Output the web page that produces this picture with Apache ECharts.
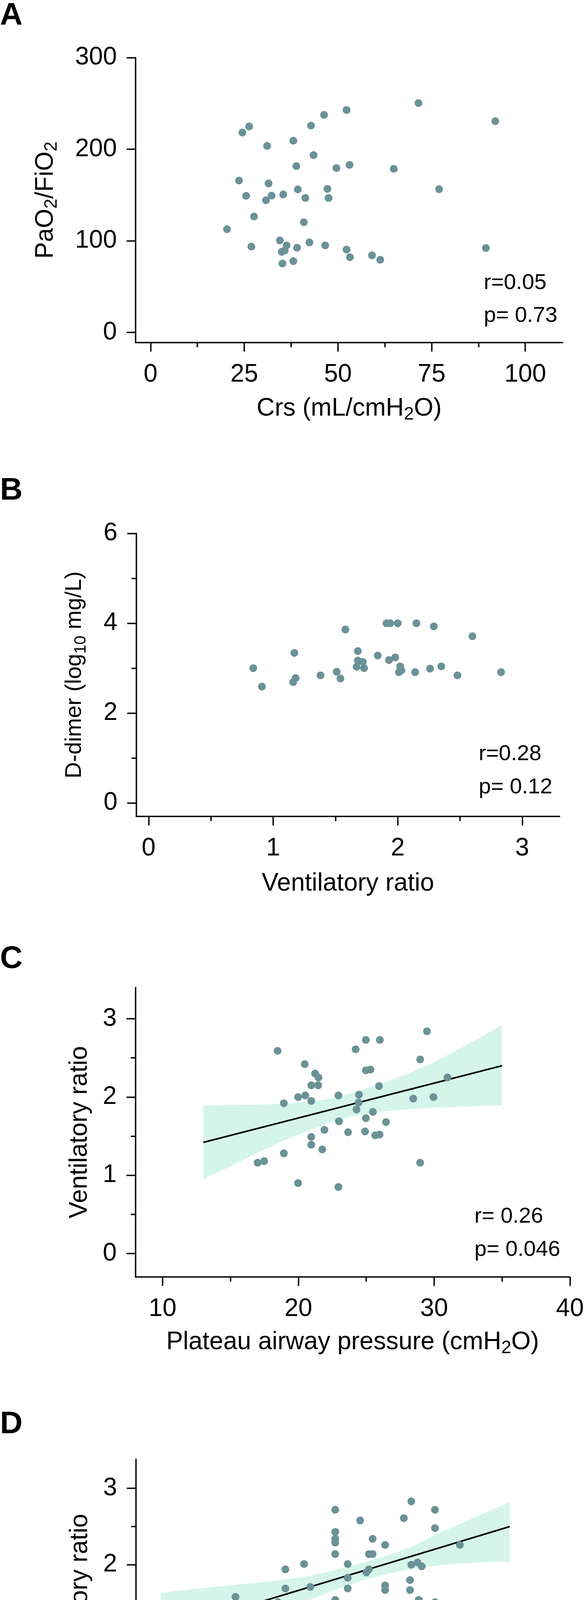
<!DOCTYPE html>
<html><head><meta charset="utf-8">
<script src="https://cdn.jsdelivr.net/npm/echarts@6/dist/echarts.min.js"></script>
<style>html,body{margin:0;padding:0;background:#fff}#c{width:1497px;height:4676px}</style>
</head><body><div id="c"></div>
<script>
// ---------- Panel A : Crs vs PaO2/FiO2 ----------
const aX = [71.5,52.3,46.3,92.0,26.3,42.8,24.5,38.1,31.1,43.5,38.9,53.1,49.6,64.9,23.6,31.5,39.3,47.2,77.0,25.5,32.3,35.4,30.8,41.3,47.5,27.6,40.9,20.4,34.5,26.9,36.3,39.1,42.4,46.6,35.0,35.8,52.3,53.2,89.5,59.1,61.3,38.1,35.2];
const aY = [250.4,242.8,237.5,230.6,224.9,225.8,218.2,209.3,203.6,193.6,181.6,182.9,179.5,178.6,165.8,162.7,156.2,156.8,156.4,149.2,149.4,150.7,144.4,146.8,146.8,126.6,120.3,112.7,100.5,93.8,95.1,92.5,98.3,95.1,88.0,89.5,90.5,82.2,92.2,84.2,79.4,77.9,75.3];
const aXTicks = [0,25,50,75,100];
const aXMinor = [12.5,37.5,62.5,87.5];
const aYTicks = [0,100,200,300];
const aYMinor = [];

// ---------- Panel B : Ventilatory ratio vs D-dimer ----------
const bX = [0.84,0.91,1.17,1.18,1.16,1.38,1.51,1.54,1.58,1.68,1.67,1.68,1.72,1.73,1.84,1.91,1.94,2.00,1.93,1.98,2.02,2.03,2.01,2.14,2.15,2.29,2.26,2.35,2.48,2.60,2.83];
const bY = [3.00,2.59,3.34,2.78,2.69,2.84,2.92,2.77,3.86,3.38,3.03,3.17,3.14,3.00,3.28,4.00,4.00,4.00,3.18,3.24,3.04,2.95,2.91,2.91,4.00,3.93,2.99,3.04,2.84,3.71,2.91];
const bXTicks = [0,1,2,3];
const bXMinor = [0.5,1.5,2.5];
const bYTicks = [0,2,4,6];
const bYMinor = [1,3,5];

// ---------- Panel C : Plateau pressure vs Ventilatory ratio ----------
const cX = [18.47,20.47,21.23,21.48,20.95,21.46,19.98,20.51,18.93,20.95,22.95,24.22,24.97,26.0,29.47,28.97,24.97,25.31,25.94,24.46,24.44,24.28,25.49,24.97,26.46,22.99,21.92,23.66,24.91,25.66,25.98,20.95,20.95,21.76,18.93,17.0,17.48,28.97,28.46,29.95,30.98,19.98,22.95];
const cY = [2.59,2.42,2.30,2.25,2.15,2.15,2.00,2.02,1.92,1.95,2.02,2.61,2.73,2.73,2.84,2.48,2.34,2.35,2.14,2.03,1.93,1.84,1.81,1.73,1.68,1.69,1.58,1.55,1.56,1.51,1.52,1.49,1.39,1.33,1.28,1.16,1.18,1.16,1.98,2.00,2.25,0.90,0.85];
const cXTicks = [10,20,30,40];
const cXMinor = [15,25,35];
const cYTicks = [0,1,2,3];
const cYMinor = [0.5,1.5,2.5];
const cFitX = [13,35];
const cFitY = [1.42,2.40];
const cBandX  = [13,15,17,19,21,22.3,23.8,25.8,27.8,29.8,31.8,33.5,35];
const cBandHi = [1.89,1.897,1.905,1.913,1.945,1.975,2.04,2.155,2.28,2.43,2.61,2.77,2.922];
const cBandLo = [0.95,1.115,1.29,1.45,1.585,1.665,1.746,1.81,1.84,1.862,1.875,1.885,1.893];

// ---------- Panel D : PEEP vs Ventilatory ratio ----------
const dX = [8.0,8.0,8.3,9.7,10,10,10,10,10.75,11.0,12,12,12,12,12,12,12,12,12.5,12.5,12.5,13,13,13.5,13.35,13.5,13.35,13.25,13.35,14,14,14,14,14.75,15.05,15.05,15.3,15.47,15,15,15.35,16,16,16,17];
const dY = [1.58,1.27,1.17,1.51,1.94,1.69,1.17,0.84,2.01,1.71,2.72,2.43,2.34,2.29,2.14,1.54,1.38,1.32,2.01,1.83,1.69,2.58,1.49,2.34,2.14,2.14,1.94,1.90,0.89,2.26,1.73,1.67,1.17,2.61,2.83,2.00,2.03,1.98,1.80,1.67,1.54,2.72,2.48,1.51,2.26];
const dXTicks = [5,10,15,20];
const dXMinor = [7.5,12.5,17.5];
const dYTicks = [0,1,2,3];
const dYMinor = [0.5,1.5,2.5];
const dFitX = [5,19];
const dFitY = [1.12,2.50];
const dBandX  = [5,7,9,10.7,12,13,14,15,16.2,17,18,19];
const dBandHi = [1.634,1.705,1.77,1.838,1.93,2.02,2.11,2.225,2.42,2.534,2.677,2.82];
const dBandLo = [0.684,0.96,1.265,1.505,1.675,1.785,1.875,1.94,1.995,2.02,2.035,2.04];

// ---------- Text ----------
const panelLetters = ['A','B','C','D'];
const statsText = [['r=0.05','p= 0.73'],['r=0.28','p= 0.12'],['r= 0.26','p= 0.046'],['r= 0.36','p= 0.013']];

const FONT = '"Liberation Sans", Arial, Helvetica, sans-serif';
const DOT = '#6a9297';
const BAND = '#d5f5ea';
const AXW = 3.5;

const panels = [
  {grid:{left:347,top:147.5,width:1093,height:729.5}, xr:[-4,110], yr:[-11,300],
   xt:aXTicks, xm:aXMinor, yt:aYTicks, ym:aYMinor, x:aX, y:aY,
   xName:'{a|Crs (mL/cmH}{s|2}{a|O)}', yName:'{a|PaO}{s|2}{a|/FiO}{s|2}', xGap:131, yGap:192, yFs:64,
   letterY:41, statX:1238, statY:[725,809]},
  {grid:{left:348.5,top:1365.5,width:1083.5,height:724.5}, xr:[-0.1,3.3], yr:[-0.3,6],
   xt:bXTicks, xm:bXMinor, yt:bYTicks, ym:bYMinor, x:bX, y:bY,
   xName:'{a|Ventilatory ratio}', yName:'{a|D-dimer (log}{s|10}{a| mg/L)}', xGap:134, yGap:120, yFs:58,
   letterY:1257, statX:1225, statY:[1931,2016]},
  {grid:{left:346.6,top:2528,width:1114.1,height:741}, xr:[8,40], yr:[-0.3,3.4],
   xt:cXTicks, xm:cXMinor, yt:cYTicks, ym:cYMinor, x:cX, y:cY,
   fitX:cFitX, fitY:cFitY, bandX:cBandX, bandHi:cBandHi, bandLo:cBandLo,
   xName:'{a|Plateau airway pressure (cmH}{s|2}{a|O)}', yName:'{a|Ventilatory ratio}', xGap:129, yGap:104, yFs:64,
   letterY:2456, statX:1214, statY:[3115,3200]},
  {grid:{left:347.5,top:3735.8,width:1084.5,height:720.1}, xr:[4,21], yr:[-0.3,3.38],
   xt:dXTicks, xm:dXMinor, yt:dYTicks, ym:dYMinor, x:dX, y:dY,
   fitX:dFitX, fitY:dFitY, bandX:dBandX, bandHi:dBandHi, bandLo:dBandLo,
   xName:'{a|PEEP (cmH}{s|2}{a|O)}', yName:'{a|Ventilatory ratio}', xGap:125, yGap:104, yFs:64,
   letterY:3647, statX:1212, statY:[4307,4391]}
];

function nameStyle(fs){
  return {fontFamily:FONT, fontSize:fs, color:'#000',
    rich:{a:{fontFamily:FONT, fontSize:fs, lineHeight:76, color:'#000'},
          s:{fontFamily:FONT, fontSize:Math.round(fs*0.72), lineHeight:40, verticalAlign:'bottom', color:'#000'}}};
}

const grids=[], xAxes=[], yAxes=[], series=[], graphics=[];
panels.forEach((p,i)=>{
  grids.push(Object.assign({containLabel:false}, p.grid));
  const lineStyle = {color:'#000', width:AXW};
  xAxes.push({type:'value', gridIndex:i, min:p.xr[0], max:p.xr[1], position:'bottom',
    axisLine:{show:true, onZero:false, lineStyle},
    axisTick:{show:true, customValues:p.xt, length:23, lineStyle},
    axisLabel:{show:true, customValues:p.xt, margin:50, fontFamily:FONT, fontSize:64, color:'#000'},
    splitLine:{show:false},
    name:p.xName, nameLocation:'middle', nameGap:p.xGap, nameTextStyle:nameStyle(64)});
  xAxes.push({type:'value', gridIndex:i, min:p.xr[0], max:p.xr[1], position:'bottom',
    axisLine:{show:false, onZero:false},
    axisTick:{show:p.xm.length>0, customValues:p.xm.length?p.xm:[p.xr[0]], length:12, lineStyle},
    axisLabel:{show:false}, splitLine:{show:false}});
  yAxes.push({type:'value', gridIndex:i, min:p.yr[0], max:p.yr[1], position:'left',
    axisLine:{show:true, onZero:false, lineStyle},
    axisTick:{show:true, customValues:p.yt, length:23, lineStyle},
    axisLabel:{show:true, customValues:p.yt, margin:48, fontFamily:FONT, fontSize:64, color:'#000'},
    splitLine:{show:false},
    name:p.yName, nameLocation:'middle', nameGap:p.yGap, nameRotate:90, nameTextStyle:nameStyle(p.yFs)});
  yAxes.push({type:'value', gridIndex:i, min:p.yr[0], max:p.yr[1], position:'left',
    axisLine:{show:false, onZero:false},
    axisTick:{show:p.ym.length>0, customValues:p.ym.length?p.ym:[p.yr[0]], length:12, lineStyle},
    axisLabel:{show:false}, splitLine:{show:false}});

  const xi = 2*i, yi = 2*i;
  if (p.bandX){
    const bx=p.bandX, hi=p.bandHi, lo=p.bandLo;
    series.push({type:'custom', xAxisIndex:xi, yAxisIndex:yi, silent:true, z:1,
      data:[[bx[0], lo[0]]],
      renderItem:(params, api)=>{
        const pts=[];
        for(let k=0;k<bx.length;k++) pts.push(api.coord([bx[k], hi[k]]));
        for(let k=bx.length-1;k>=0;k--) pts.push(api.coord([bx[k], lo[k]]));
        return {type:'polygon', shape:{points:pts}, style:{fill:BAND, stroke:null}};
      }});
  }
  if (p.fitX){
    series.push({type:'line', xAxisIndex:xi, yAxisIndex:yi, silent:true, z:3,
      data:p.fitX.map((v,k)=>[v, p.fitY[k]]), showSymbol:false, symbol:'none',
      lineStyle:{color:'#000', width:4}});
  }
  series.push({type:'scatter', xAxisIndex:xi, yAxisIndex:yi, silent:true, z:4,
    data:p.x.map((v,k)=>[v, p.y[k]]), symbol:'circle', symbolSize:20,
    itemStyle:{color:DOT, opacity:1}});

  graphics.push({type:'text', x:0, y:p.letterY, silent:true,
    style:{text:panelLetters[i], font:'bold 80px '+FONT, fill:'#000', align:'left', verticalAlign:'middle'}});
  statsText[i].forEach((t,k)=>{
    graphics.push({type:'text', x:p.statX, y:p.statY[k], silent:true,
      style:{text:t, font:'56px '+FONT, fill:'#000', align:'left', verticalAlign:'middle'}});
  });
});

const chart = echarts.init(document.getElementById('c'), null, {renderer:'canvas'});
chart.setOption({
  animation:false,
  backgroundColor:'#fff',
  grid:grids, xAxis:xAxes, yAxis:yAxes, series, graphic:graphics
});
</script>
</body></html>
